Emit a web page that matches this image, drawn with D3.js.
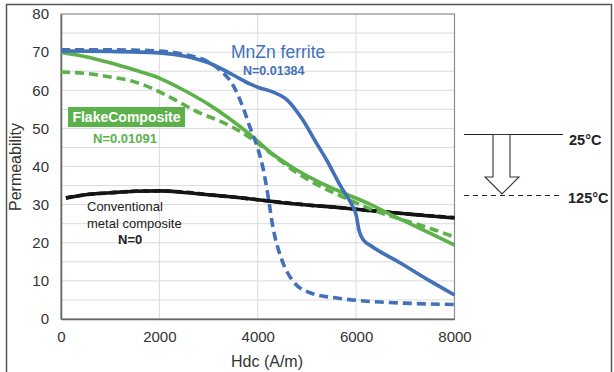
<!DOCTYPE html>
<html>
<head>
<meta charset="utf-8">
<script src="https://cdn.jsdelivr.net/npm/d3@7"></script>
<style>
  body { margin: 0; background: #fff; }
  svg { display: block; font-family: "Liberation Sans", Arial, sans-serif; }
</style>
</head>
<body>
<div id="chart"></div>
<script>
// data: [Hdc (A/m), permeability]
const mnznSolid = [[0,70.3],[1000,70.2],[2000,69.8],[2500,69.0],[3000,67.2],[3500,64.0],[3850,61.6],[4000,60.8],[4300,59.6],[4600,57.4],[4900,52.5],[5200,46],[5400,41.7],[5700,34.5],[5900,30.3],[6000,27.3],[6060,23.2],[6150,20.7],[6300,19.2],[6900,14.7],[7500,10],[8000,6.3]];
const mnznDashed = [[0,70.6],[1000,70.6],[2000,70.3],[2500,69.4],[3000,67.4],[3230,65.3],[3500,61.3],[3700,55.5],[3850,50],[4000,44.8],[4100,40],[4200,33],[4310,24],[4490,15.5],[4700,10.2],[5060,6.9],[5670,5.4],[6280,4.6],[6900,4.2],[8000,3.8]];
const flakeSolid = [[0,69.9],[500,68.8],[1000,67.2],[1500,65.3],[2000,63.2],[2500,60],[3000,56.3],[3400,52.8],[3850,48.3],[4250,43.8],[4800,39],[5300,35.6],[5700,33.3],[6300,30.0],[6700,27.4],[7000,25.6],[7500,22.5],[8000,19.4]];
const flakeDashed = [[0,64.8],[500,64.4],[1000,63.5],[1500,62.2],[2000,59.6],[2400,56.9],[2700,54.8],[3400,50.9],[3850,47.5],[4250,43.6],[4800,38.3],[5300,34.6],[5700,32.2],[6300,28.8],[6700,27.0],[7000,25.8],[7500,23.8],[8000,21.5]];
const convSolid = [[100,31.7],[500,32.6],[1000,33.1],[1500,33.5],[2000,33.6],[2500,33.2],[3000,32.6],[3500,32],[4000,31.3],[4500,30.5],[5000,29.9],[5500,29.4],[6000,28.8],[6500,28.2],[7000,27.6],[7500,27.0],[8000,26.5]];
const convDashed = [[100,31.8],[500,32.6],[1000,33.1],[1500,33.5],[2000,33.6],[2500,33.3],[3000,32.6],[3500,32],[4000,31.3],[4500,30.6],[5000,29.9],[5500,29.4],[6000,28.8],[6500,28.2],[7000,27.6],[7500,27.1],[8000,26.6]];

const xTicks = [0, 2000, 4000, 6000, 8000];
const yTicks = [0, 10, 20, 30, 40, 50, 60, 70, 80];

const blue = '#4271b8',
  green = '#5cb14a',
  black = '#151515';

const W = 614, H = 372;
const margin = { top: 14, right: 160, bottom: 53, left: 61 };

const x = d3.scaleLinear().domain([0, 8000]).range([margin.left, W - margin.right + 0.5]);
const y = d3.scaleLinear().domain([0, 80]).range([H - margin.bottom, margin.top]);

const svg = d3.select('#chart').append('svg').attr('width', W).attr('height', H);

svg.append('rect').attr('width', W).attr('height', H).attr('fill', '#fff');
// outer frame
svg.append('rect')
  .attr('x', 6.5).attr('y', 4.5).attr('width', 605).attr('height', 380)
  .attr('fill', 'none').attr('stroke', '#555').attr('stroke-width', 1.5);

// grid
svg.append('g').attr('class', 'grid-y')
  .selectAll('line').data(d3.range(5, 80, 5)).join('line')
  .attr('x1', x(0)).attr('x2', x(8000))
  .attr('y1', (d) => y(d)).attr('y2', (d) => y(d))
  .attr('stroke', '#dadada').attr('stroke-width', 1);
svg.append('g').attr('class', 'grid-x')
  .selectAll('line').data(xTicks.slice(1, -1)).join('line')
  .attr('x1', (d) => x(d)).attr('x2', (d) => x(d))
  .attr('y1', y(0)).attr('y2', y(80))
  .attr('stroke', '#dadada').attr('stroke-width', 1);

// plot box
svg.append('rect')
  .attr('x', x(0)).attr('y', y(80)).attr('width', x(8000) - x(0)).attr('height', y(0) - y(80))
  .attr('fill', 'none').attr('stroke', '#8a8a8a').attr('stroke-width', 1.2);

// axes
const yAxis = (g) =>
  g.attr('transform', `translate(${x(0)},0)`)
    .call(d3.axisLeft(y).tickValues(yTicks).tickSize(0).tickPadding(12))
    .call((g) => g.select('.domain').attr('stroke', '#666').attr('stroke-width', 1.5))
    .call((g) => g.selectAll('text').attr('font-size', 15).attr('fill', '#333'));

const xAxis = (g) =>
  g.attr('transform', `translate(0,${y(0)})`)
    .call(d3.axisBottom(x).tickValues(xTicks).tickFormat(d3.format('d')).tickSize(0).tickPadding(12))
    .call((g) => g.select('.domain').attr('stroke', '#666').attr('stroke-width', 1.5))
    .call((g) => g.selectAll('text').attr('font-size', 15).attr('fill', '#333'));

svg.append('g').attr('class', 'y-axis').attr('font-family', null).call(yAxis);
svg.append('g').attr('class', 'x-axis').attr('font-family', null).call(xAxis);

// curves
const line = d3.line()
  .x((d) => x(d[0]))
  .y((d) => y(d[1]))
  .curve(d3.curveMonotoneX);

const series = [
  { data: convSolid, color: black, dash: null },
  { data: convDashed, color: black, dash: '7,4' },
  { data: flakeSolid, color: green, dash: null },
  { data: flakeDashed, color: green, dash: '9,5' },
  { data: mnznSolid, color: blue, dash: null },
  { data: mnznDashed, color: blue, dash: '9,5' }
];

svg.append('g').attr('class', 'lines')
  .selectAll('path').data(series).join('path')
  .attr('d', (d) => line(d.data))
  .attr('fill', 'none')
  .attr('stroke', (d) => d.color)
  .attr('stroke-width', 3.6)
  .attr('stroke-dasharray', (d) => d.dash);

// labels
svg.append('text').attr('x', 231).attr('y', 58)
  .attr('font-size', 17.5).attr('fill', blue).text('MnZn ferrite');
svg.append('text').attr('x', 243).attr('y', 74.5)
  .attr('font-size', 12.5).attr('font-weight', 'bold').attr('fill', blue).text('N=0.01384');

svg.append('rect').attr('x', 68).attr('y', 107).attr('width', 117).attr('height', 20).attr('fill', green);
svg.append('text').attr('x', 126.5).attr('y', 122).attr('text-anchor', 'middle')
  .attr('font-size', 14).attr('font-weight', 'bold').attr('fill', '#fff').text('FlakeComposite');
svg.append('text').attr('x', 93).attr('y', 142.5)
  .attr('font-size', 13).attr('font-weight', 'bold').attr('fill', green).text('N=0.01091');

svg.append('text').attr('x', 87).attr('y', 211)
  .attr('font-size', 13).attr('fill', '#222').text('Conventional');
svg.append('text').attr('x', 87).attr('y', 227.5)
  .attr('font-size', 13).attr('fill', '#222').text('metal composite');
svg.append('text').attr('x', 118).attr('y', 243.5)
  .attr('font-size', 13).attr('font-weight', 'bold').attr('fill', '#222').text('N=0');

// axis titles
svg.append('text').attr('transform', 'translate(21,167) rotate(-90)')
  .attr('text-anchor', 'middle').attr('font-size', 16).attr('fill', '#333').text('Permeability');
svg.append('text').attr('x', 267).attr('y', 367)
  .attr('text-anchor', 'middle').attr('font-size', 16).attr('fill', '#333').text('Hdc (A/m)');

// temperature key with hollow arrow
const key = svg.append('g').attr('class', 'temp-key');
key.append('line').attr('x1', 464).attr('x2', 563).attr('y1', 134.5).attr('y2', 134.5)
  .attr('stroke', '#222').attr('stroke-width', 1.2);
key.append('line').attr('x1', 464).attr('x2', 563).attr('y1', 195.5).attr('y2', 195.5)
  .attr('stroke', '#222').attr('stroke-width', 1.2).attr('stroke-dasharray', '5,4');
key.append('polygon')
  .attr('points', '493,134.5 493,177 485,177 502,194 519,177 510,177 510,134.5')
  .attr('fill', '#fff').attr('stroke', '#333').attr('stroke-width', 1.1);
key.append('text').attr('x', 569).attr('y', 145)
  .attr('font-size', 14.5).attr('font-weight', 'bold').attr('fill', '#222').text('25°C');
key.append('text').attr('x', 568).attr('y', 203)
  .attr('font-size', 14.5).attr('font-weight', 'bold').attr('fill', '#222').text('125°C');
</script>
</body>
</html>
